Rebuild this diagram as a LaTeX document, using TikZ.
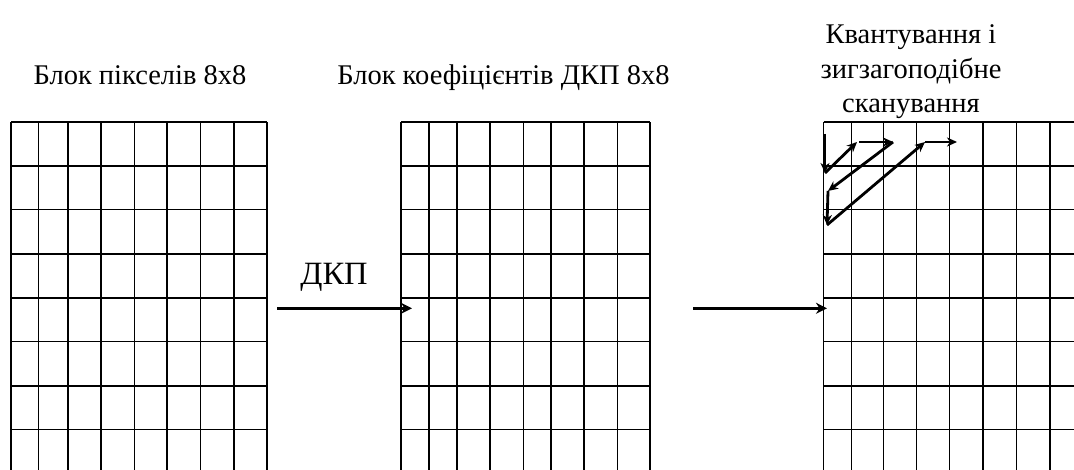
\documentclass[tikz,border=0pt]{standalone}
\usepackage{fontspec}
\setmainfont{Liberation Serif}
\newfontfamily\capserif{Liberation Serif}
\usetikzlibrary{arrows.meta}
\begin{document}
\begin{tikzpicture}[x=1pt,y=-1pt,
  gridline/.style={line width=1.6pt},
  flow/.style={line width=3pt,-{Stealth[length=11pt,width=11pt,inset=3.5pt]}},
  zig/.style={line width=2.8pt,-{Stealth[length=10pt,width=9pt,inset=3pt]}},
  caption/.style={font=\capserif\fontsize{28.5}{34}\selectfont, inner sep=0pt, anchor=base},
]
\useasboundingbox (0,0) rectangle (1074,470);
\clip (0,0) rectangle (1074,470);

% row positions shared by all three 8x8 blocks
\def\rows{122.3,166,209.7,254.3,298,341.7,385.7,429.3,473.5}

% block of pixels
\foreach \x in {11,38.3,68,100.7,134.3,166.7,200.3,233.7,266.7}
  \draw[gridline] (\x,122.3) -- (\x,480);
\foreach \y in \rows
  \draw[gridline] (11,\y) -- (266.7,\y);

% block of DCT coefficients
\foreach \x in {401,428.7,457,490,523.3,551,584,617.3,650}
  \draw[gridline] (\x,122.3) -- (\x,480);
\foreach \y in \rows
  \draw[gridline] (401,\y) -- (650,\y);

% quantised block with zigzag scan
\foreach \x in {823.5,851.3,883.3,916.5,949.5,983,1016.3,1049.7,1083}
  \draw[gridline] (\x,122.3) -- (\x,480);
\foreach \y in \rows
  \draw[gridline] (823.5,\y) -- (1083,\y);

% captions
\node[caption] (cap1) at (140,85) {Блок пікселів 8x8};
\node[caption] (cap2) at (503.5,85) {Блок коефіцієнтів ДКП 8x8};
\node[caption] (cap3a) at (911,44) {Квантування і};
\node[caption] (cap3b) at (911,78.5) {зигзагоподібне};
\node[caption] (cap3c) at (911,112.5) {сканування};
\node[caption, font=\capserif\fontsize{32.5}{38}\selectfont] (dct) at (334,285) {ДКП};

% transform arrows
\coordinate (a1s) at (277,308.3);
\coordinate (a1e) at (412,308.3);
\coordinate (a2s) at (693,308.3);
\coordinate (a2e) at (827,308.3);
\draw[flow] (a1s) -- (a1e);
\draw[flow] (a2s) -- (a2e);

% zigzag scan path
\coordinate (z0) at (825,134);
\coordinate (z1) at (825,173);
\coordinate (z2) at (857,142);
\coordinate (z2b) at (859,142);
\coordinate (z3) at (893,142);
\coordinate (z4) at (828,191);
\coordinate (z5) at (827,225);
\coordinate (z6) at (925,142);
\coordinate (z7) at (957,142);
\draw[zig] (z0) -- (z1);
\draw[zig] (z1) -- (z2);
\draw[zig] (z2b) -- (z3);
\draw[zig] (z3) -- (z4);
\draw[zig] (z4) -- (z5);
\draw[zig] (z5) -- (z6);
\draw[zig] (z6) -- (z7);
\end{tikzpicture}
\end{document}
